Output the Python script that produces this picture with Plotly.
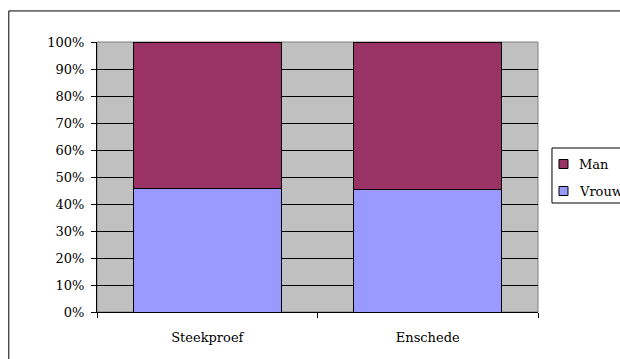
import plotly.graph_objects as go

categories = ["Steekproef", "Enschede"]
vrouw = [0.459, 0.454]
man = [0.541, 0.546]

series_names = ["Man", "Vrouw"]
series_colors = {"Man": "#993366", "Vrouw": "#9999FF"}

FONT = "DejaVu Serif"

fig = go.Figure()
fig.add_trace(go.Bar(
    x=categories, y=vrouw, name="Vrouw", showlegend=False,
    marker=dict(color=series_colors["Vrouw"], line=dict(color="#000000", width=1)),
))
fig.add_trace(go.Bar(
    x=categories, y=man, name="Man", showlegend=False,
    marker=dict(color=series_colors["Man"], line=dict(color="#000000", width=1)),
))

# outer chart frame
fig.add_shape(type="rect", xref="paper", yref="paper",
              x0=-0.2, x1=1.3, y0=-0.3, y1=1.115,
              line=dict(color="#000000", width=1), fillcolor="rgba(0,0,0,0)")
# plot area edge
fig.add_shape(type="rect", xref="paper", yref="paper",
              x0=0, x1=1, y0=0, y1=1, layer="below",
              line=dict(color="#808080", width=1), fillcolor="rgba(0,0,0,0)")

# legend box with swatches and labels
fig.add_shape(type="rect", xref="paper", yref="paper",
              x0=1.0317, x1=1.3, y0=0.4037, y1=0.6074,
              line=dict(color="#000000", width=1), fillcolor="#FFFFFF")
for i, name in enumerate(series_names):
    yc = 0.5481 - i * 0.1
    fig.add_shape(type="rect", xref="paper", yref="paper",
                  x0=1.0476, x1=1.0680, y0=yc - 0.0167, y1=yc + 0.0167,
                  line=dict(color="#000000", width=1),
                  fillcolor=series_colors[name])
    fig.add_annotation(xref="paper", yref="paper", x=1.0884, y=yc,
                       xanchor="left", yanchor="middle", showarrow=False,
                       text=name, font=dict(family=FONT, size=13, color="#000000"))

fig.update_layout(
    width=620, height=359,
    margin=dict(l=97, r=82, t=42, b=47, autoexpand=False),
    barmode="stack", bargap=0.33,
    plot_bgcolor="#C0C0C0", paper_bgcolor="#FFFFFF",
    font=dict(family=FONT, size=13, color="#000000"),
    showlegend=False,
    xaxis=dict(
        type="category", showgrid=False, showline=True, linecolor="#000000",
        ticks="outside", tickson="boundaries", ticklen=5, tickcolor="#000000",
        ticklabelstandoff=13,
    ),
    yaxis=dict(
        range=[0, 1], dtick=0.1, tickformat=".0%",
        showgrid=True, gridcolor="#000000", gridwidth=1,
        showline=True, linecolor="#000000", zeroline=False,
        ticks="outside", ticklen=5, tickcolor="#000000",
        ticklabelstandoff=4,
    ),
)

fig.write_html("out.html")
